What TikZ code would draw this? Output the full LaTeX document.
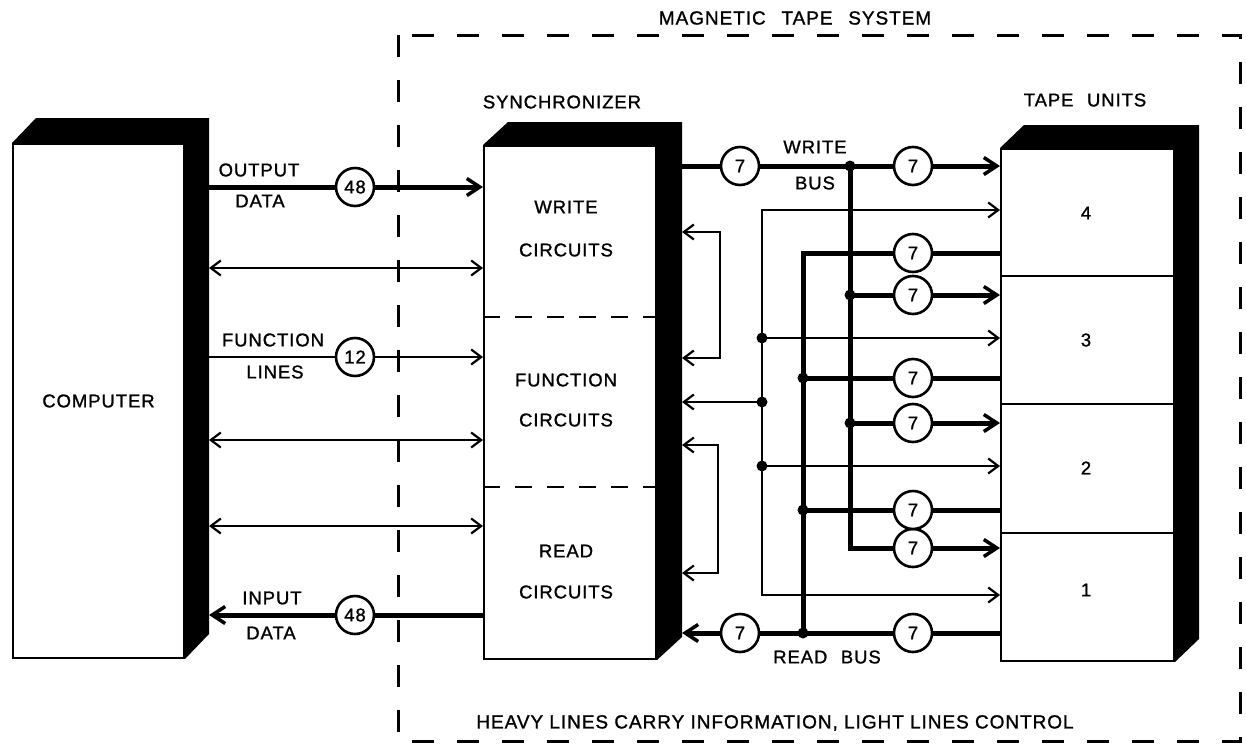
\documentclass[tikz,border=0pt]{standalone}
\usepackage{fontspec}
\setmainfont{Liberation Sans}[LetterSpace=5, FakeBold=1.2]
\usetikzlibrary{arrows.meta,calc,backgrounds}
\newcommand\boxshadow[3]{\fill (#1.north west) -- ++(#2,-#3) -- ($(#1.north east)+(#2,-#3)$) -- ($(#1.south east)+(#2,-#3)$) -- (#1.south east) -- cycle;}
\begin{document}
\begin{tikzpicture}[x=1pt,y=-1pt,
  lab/.style={font=\fontsize{18.5}{20}\selectfont, inner sep=0pt},
  biglab/.style={font=\fontsize{19}{21}\selectfont, inner sep=0pt},
  face/.style={draw, line width=2pt, fill=white, inner sep=0pt, anchor=north west},
  thinl/.style={line width=2.2pt},
  heavyl/.style={line width=5pt},
  tt/.style={-{Straight Barb[length=10pt,width=15pt]}},
  ttb/.style={{Straight Barb[length=10pt,width=15pt]}-{Straight Barb[length=10pt,width=15pt]}},
  ht/.style={-{Straight Barb[length=13pt,width=17pt,line width=3.5pt]}},
  num/.style={circle, draw, line width=2.6pt, fill=white, minimum size=38pt, inner sep=0pt, font=\fontsize{18.5}{20}\selectfont},
  jdot/.style={circle, fill, minimum size=11pt, inner sep=0pt},
  outerdash/.style={line width=3pt, dash pattern=on 22pt off 23pt},
  innerdash/.style={line width=2pt, dash pattern=on 17pt off 15pt},
]
\useasboundingbox (0,0) rectangle (1246,744);

% boxes (front faces)
\node[face, minimum width=171pt, minimum height=514pt] (comp) at (12,143) {};
\node[face, minimum width=172pt, minimum height=513pt] (sync) at (483,145) {};
\node[face, minimum width=173pt, minimum height=512pt] (tape) at (1000,148) {};

\begin{pgfonlayer}{background}
  \boxshadow{comp}{24}{25}
  \boxshadow{sync}{25}{23}
  \boxshadow{tape}{24}{23}
  \draw[outerdash] (398,35) rectangle (1240,741);
\end{pgfonlayer}

\coordinate (compR) at ($(comp.north east)+(24,0)$);
\coordinate (syncR) at ($(sync.north east)+(25,0)$);

% dividers
\draw[innerdash] (sync.west |- 0,317) -- (sync.east |- 0,317);
\draw[innerdash] (sync.west |- 0,487) -- (sync.east |- 0,487);
\draw[line width=2pt] (tape.west |- 0,276) -- (tape.east |- 0,276);
\draw[line width=2pt] (tape.west |- 0,404) -- (tape.east |- 0,404);
\draw[line width=2pt] (tape.west |- 0,533) -- (tape.east |- 0,533);

% titles and box texts
\node[biglab] (title) at (795,18) {MAGNETIC\hspace{0.5em} TAPE\hspace{0.5em} SYSTEM};
\node[biglab] (foot) at (775,723) {HEAVY LINES CARRY INFORMATION, LIGHT LINES CONTROL};
\node[lab] (tSync) at (562,102) {SYNCHRONIZER};
\node[lab] (tTape) at (1085,100) {TAPE\hspace{0.4em} UNITS};
\node[lab] (tComp) at (comp.center) {COMPUTER};
\node[lab] (tW1) at (566,207) {WRITE};
\node[lab] (tW2) at (566,250) {CIRCUITS};
\node[lab] (tF1) at (566,380) {FUNCTION};
\node[lab] (tF2) at (566,420) {CIRCUITS};
\node[lab] (tR1) at (566,551) {READ};
\node[lab] (tR2) at (566,592) {CIRCUITS};
\node[lab] (u4) at (1086,213) {4};
\node[lab] (u3) at (1086,340) {3};
\node[lab] (u2) at (1086,468) {2};
\node[lab] (u1) at (1086,590) {1};

% computer <-> synchronizer
\node[num] (n48a) at (355,187) {48};
\draw[heavyl] (compR |- n48a) -- (n48a);
\draw[heavyl,ht] (n48a) -- (sync.west |- n48a);
\draw[thinl,ttb] (compR |- 0,268) -- (sync.west |- 0,268);
\node[num] (n12) at (355,357) {12};
\draw[thinl] (compR |- n12) -- (n12);
\draw[thinl,tt] (n12) -- (sync.west |- n12);
\draw[thinl,ttb] (compR |- 0,440) -- (sync.west |- 0,440);
\draw[thinl,ttb] (compR |- 0,526) -- (sync.west |- 0,526);
\node[num] (n48b) at (355,615) {48};
\draw[heavyl] (sync.west |- n48b) -- (n48b);
\draw[heavyl,ht] (n48b) -- (compR |- n48b);

\node[lab] (lOut) at (259,170) {OUTPUT};
\node[lab] (lOd) at (260,201) {DATA};
\node[lab] (lFun) at (273,340) {FUNCTION};
\node[lab] (lLin) at (275,372) {LINES};
\node[lab] (lIn) at (272,598) {INPUT};
\node[lab] (lId) at (271,633) {DATA};

% synchronizer internal loops
\draw[thinl,ttb] (syncR |- 0,232) -- (720,232) -- (720,358) -- (syncR |- 0,358);
\draw[thinl,ttb] (syncR |- 0,445) -- (718,445) -- (718,573) -- (syncR |- 0,573);

% control lines
\coordinate (cc0) at (762,210);
\node[jdot] (jc1) at (762,338) {};
\node[jdot] (jc2) at (762,402) {};
\node[jdot] (jc3) at (762,466) {};
\coordinate (cc4) at (762,595);
\draw[thinl,ttb] (tape.west |- cc0) -- (cc0) -- (cc4) -- (tape.west |- cc4);
\draw[thinl,tt] (jc1.center) -- (tape.west |- jc1);
\draw[thinl,tt] (jc3.center) -- (tape.west |- jc3);
\draw[thinl,tt] (jc2.center) -- (syncR |- jc2);

% write bus
\node[num] (w7a) at (740,166) {7};
\node[jdot] (jw0) at (850,166) {};
\node[num] (w7b) at (913,166) {7};
\node[jdot] (jw1) at (850,295) {};
\node[num] (w1) at (913,295) {7};
\node[jdot] (jw2) at (850,423) {};
\node[num] (w2) at (913,423) {7};
\coordinate (cw3) at (850,548);
\node[num] (w3) at (913,548) {7};
\draw[heavyl] (syncR |- w7a) -- (w7a);
\draw[heavyl] (w7a) -- (jw0.center) -- (w7b);
\draw[heavyl,ht] (w7b) -- (tape.west |- w7b);
\draw[heavyl] (jw0.center) -- (cw3) -- (w3);
\draw[heavyl] (jw1.center) -- (w1);
\draw[heavyl] (jw2.center) -- (w2);
\draw[heavyl,ht] (w1) -- (tape.west |- w1);
\draw[heavyl,ht] (w2) -- (tape.west |- w2);
\draw[heavyl,ht] (w3) -- (tape.west |- w3);
\node[lab] (lWr) at (815,147) {WRITE};
\node[lab] (lWb) at (815,183) {BUS};

% read bus
\coordinate (cr0) at (803,253);
\node[num] (r0) at (913,253) {7};
\node[jdot] (jr1) at (803,378) {};
\node[num] (r1) at (913,378) {7};
\node[jdot] (jr2) at (803,510) {};
\node[num] (r2) at (913,510) {7};
\node[jdot] (jr3) at (803,633) {};
\node[num] (r3) at (913,633) {7};
\node[num] (rb) at (740,633) {7};
\draw[heavyl] (tape.west |- r0) -- (r0) -- (cr0) -- (jr3.center);
\draw[heavyl] (tape.west |- r1) -- (r1) -- (jr1.center);
\draw[heavyl] (tape.west |- r2) -- (r2) -- (jr2.center);
\draw[heavyl] (tape.west |- r3) -- (r3) -- (jr3.center) -- (rb);
\draw[heavyl,ht] (rb) -- (syncR |- rb);
\node[lab] (lRb) at (827,657) {READ\hspace{0.4em} BUS};
\end{tikzpicture}
\end{document}
